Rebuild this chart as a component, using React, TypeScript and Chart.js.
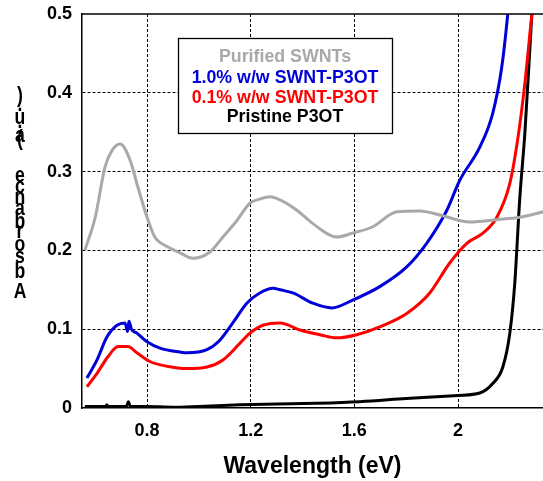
import React, { useEffect, useRef } from "react";
import { Chart, registerables } from "chart.js";

Chart.register(...registerables);

// ---- data ----
const xTickValues = [0.8, 1.2, 1.6, 2.0];
const yTickValues = [0, 0.1, 0.2, 0.3, 0.4, 0.5];

const grayX = [0.56, 0.6, 0.638, 0.665, 0.696, 0.734, 0.765, 0.8, 0.83, 0.877, 0.927, 0.977, 1.043, 1.093, 1.147, 1.197, 1.235, 1.274, 1.313, 1.378, 1.44, 1.532, 1.594, 1.671, 1.764, 1.852, 1.93, 2.045, 2.15, 2.238, 2.33];
const grayY = [0.2, 0.242, 0.306, 0.327, 0.335, 0.315, 0.28, 0.242, 0.217, 0.205, 0.197, 0.19, 0.198, 0.217, 0.238, 0.26, 0.265, 0.268, 0.264, 0.251, 0.234, 0.217, 0.222, 0.23, 0.249, 0.25, 0.245, 0.236, 0.239, 0.242, 0.249];

const blueX = [0.568, 0.607, 0.645, 0.684, 0.715, 0.725, 0.73, 0.74, 0.761, 0.8, 0.85, 0.927, 0.954, 1.031, 1.081, 1.131, 1.185, 1.235, 1.286, 1.313, 1.363, 1.44, 1.513, 1.594, 1.698, 1.802, 1.879, 1.957, 2.007, 2.084, 2.134, 2.169, 2.192, 2.2];
const blueY = [0.038, 0.061, 0.09, 0.105, 0.108, 0.097, 0.11, 0.1, 0.095, 0.084, 0.076, 0.071, 0.07, 0.074, 0.086, 0.108, 0.133, 0.146, 0.152, 0.15, 0.146, 0.133, 0.127, 0.137, 0.154, 0.179, 0.209, 0.251, 0.289, 0.331, 0.374, 0.433, 0.5, 0.53];

const redX = [0.568, 0.607, 0.649, 0.688, 0.726, 0.761, 0.811, 0.877, 0.954, 1.031, 1.093, 1.158, 1.197, 1.247, 1.313, 1.39, 1.467, 1.532, 1.609, 1.698, 1.802, 1.891, 1.968, 2.034, 2.096, 2.15, 2.2, 2.23, 2.258, 2.285, 2.295];
const redY = [0.027, 0.044, 0.065, 0.078, 0.078, 0.07, 0.059, 0.053, 0.05, 0.052, 0.061, 0.082, 0.095, 0.105, 0.108, 0.099, 0.093, 0.089, 0.093, 0.103, 0.12, 0.146, 0.184, 0.209, 0.222, 0.242, 0.285, 0.34, 0.412, 0.5, 0.53];

const blackX = [0.56, 0.6, 0.64, 0.645, 0.65, 0.72, 0.728, 0.735, 0.8, 0.9, 1.0, 1.158, 1.3, 1.45, 1.621, 1.8, 2.0, 2.084, 2.134, 2.173, 2.2, 2.219, 2.238, 2.258, 2.277, 2.285, 2.29];
const blackY = [0.002, 0.002, 0.002, 0.004, 0.002, 0.002, 0.008, 0.002, 0.002, 0.001, 0.002, 0.004, 0.005, 0.006, 0.008, 0.012, 0.016, 0.019, 0.031, 0.052, 0.095, 0.158, 0.264, 0.349, 0.454, 0.5, 0.53];

const seriesLabels = ["Purified SWNTs", "1.0% w/w SWNT-P3OT", "0.1% w/w SWNT-P3OT", "Pristine P3OT"];
const seriesColors = ["#a9a9a9", "#0000d8", "#ff0000", "#000000"];

const xTitle = "Wavelength (eV)";
const yTitle = "Absorbance (a.u.)";
// baseline y of each non-space character of the stacked y title (bottom to top reading order)
const yTitleBaselines = [298, 278, 263, 251, 238, 228, 215, 204, 193, 182, 145, 142, 128, 124, 111, 102];

const FONT = "Arial, 'Liberation Sans', sans-serif";

const toPoints = (xs: number[], ys: number[]) => xs.map((x, i) => ({ x, y: ys[i] }));

const decorPlugin = {
  id: "decor",
  afterDraw(chart: any) {
    const ctx = chart.ctx;
    const a = chart.chartArea;
    ctx.save();
    // top frame line
    ctx.strokeStyle = "#000";
    ctx.lineWidth = 1.5;
    ctx.setLineDash([]);
    ctx.beginPath();
    ctx.moveTo(a.left, a.top);
    ctx.lineTo(a.right, a.top);
    ctx.stroke();

    // legend box
    const bx = 178, by = 38, bw = 214, bh = 95;
    ctx.fillStyle = "#fff";
    ctx.fillRect(bx, by, bw, bh);
    ctx.lineWidth = 1.3;
    ctx.strokeStyle = "#000";
    ctx.strokeRect(bx + 0.5, by + 0.5, bw, bh);
    ctx.font = `bold 17.8px ${FONT}`;
    ctx.textAlign = "center";
    ctx.textBaseline = "alphabetic";
    const baselines = [62, 83, 103, 122];
    seriesLabels.forEach((t, i) => {
      ctx.fillStyle = seriesColors[i];
      ctx.fillText(t, bx + bw / 2, baselines[i]);
    });

    // stacked y title, read bottom to top
    ctx.fillStyle = "#000";
    ctx.font = `bold 22px ${FONT}`;
    const chars = yTitle.split("").filter((c) => c !== " ");
    chars.forEach((c, i) => {
      ctx.save();
      ctx.translate(20, yTitleBaselines[i]);
      ctx.scale(0.8, 1);
      ctx.fillText(c, 0, 0);
      ctx.restore();
    });
    ctx.restore();
  },
};

export default function App() {
  const ref = useRef<HTMLCanvasElement | null>(null);
  useEffect(() => {
    if (!ref.current) return;
    const dash = [3, 2];
    const chart = new Chart(ref.current, {
      type: "line",
      data: {
        datasets: [
          { label: seriesLabels[0], data: toPoints(grayX, grayY), borderColor: seriesColors[0] },
          { label: seriesLabels[1], data: toPoints(blueX, blueY), borderColor: seriesColors[1] },
          { label: seriesLabels[2], data: toPoints(redX, redY), borderColor: seriesColors[2] },
          { label: seriesLabels[3], data: toPoints(blackX, blackY), borderColor: seriesColors[3] },
        ].map((d) => ({ ...d, borderWidth: 3, pointRadius: 0, fill: false, cubicInterpolationMode: "monotone" as const })),
      },
      options: {
        animation: false,
        responsive: false,
        devicePixelRatio: 1,
        layout: { padding: { top: 14, left: 0, right: 0, bottom: 0 } },
        plugins: { legend: { display: false }, tooltip: { enabled: false }, title: { display: false } },
        scales: {
          x: {
            type: "linear",
            min: 0.549,
            max: 2.328,
            afterBuildTicks: (s: any) => {
              s.ticks = xTickValues.map((v) => ({ value: v }));
            },
            afterFit: (s: any) => {
              s.height = 73;
              s.paddingLeft = 0;
              s.paddingRight = 0;
            },
            ticks: {
              color: "#000",
              font: { family: FONT, size: 18, weight: "bold" },
              padding: 12,
              maxRotation: 0,
              callback: (v: any) => (Number(v) === 2 ? "2" : Number(v).toFixed(1)),
            },
            grid: { color: "#000", lineWidth: 1, drawTicks: false },
            border: { display: true, color: "#000", width: 1.5, dash: dash },
            title: {
              display: true,
              text: xTitle,
              color: "#000",
              font: { family: FONT, size: 23, weight: "bold" },
              padding: { top: 0, bottom: 1 },
            },
          },
          y: {
            type: "linear",
            min: 0,
            max: 0.5,
            afterBuildTicks: (s: any) => {
              s.ticks = yTickValues.map((v) => ({ value: v }));
            },
            afterFit: (s: any) => {
              s.width = 82;
              s.paddingTop = 0;
              s.paddingBottom = 0;
            },
            ticks: {
              color: "#000",
              font: { family: FONT, size: 18, weight: "bold" },
              padding: 10,
              callback: (v: any) => (Number(v) === 0 ? "0" : Number(v).toFixed(1)),
            },
            grid: {
              color: (c: any) => (c.tick && (c.tick.value === 0 || c.tick.value === 0.5) ? "rgba(0,0,0,0)" : "#000"),
              lineWidth: 1,
              drawTicks: false,
            },
            border: { display: true, color: "#000", width: 1.5, dash: dash },
          },
        },
      },
      plugins: [decorPlugin],
    } as any);
    return () => chart.destroy();
  }, []);
  return (
    <div style={{ position: "absolute", left: 0, top: 0, width: 543, height: 481, background: "#fff" }}>
      <canvas ref={ref} width={543} height={481} style={{ width: 543, height: 481, display: "block" }} />
    </div>
  );
}
